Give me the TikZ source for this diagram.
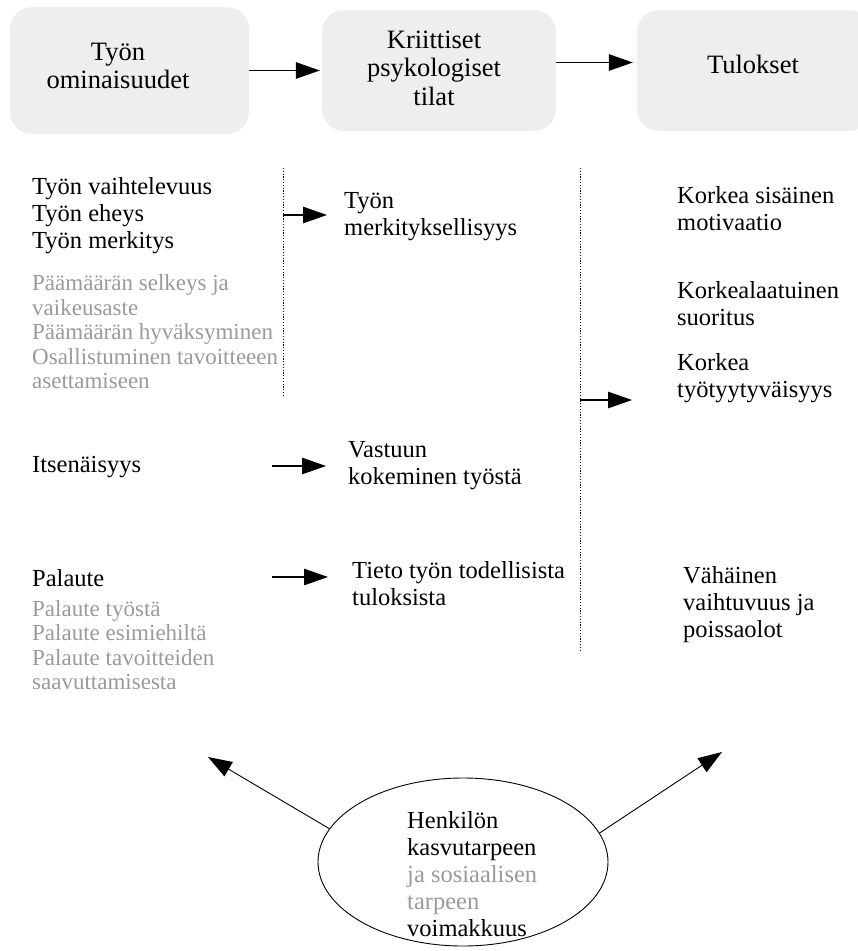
\documentclass[tikz,border=0pt]{standalone}
\usepackage{fontspec}
\setmainfont{Liberation Serif}
\usetikzlibrary{arrows.meta,shapes.geometric}
\definecolor{boxfill}{HTML}{EEEEEE}
\definecolor{softgray}{HTML}{9A9A9A}
\tikzset{
  headbox/.style={draw=none, fill=boxfill, rounded corners=22pt, inner sep=0pt},
  headtxt/.style={font=\fontsize{26.5}{28.5}\selectfont, align=center, inner sep=0pt},
  main/.style={font=\fontsize{24.5}{27}\selectfont, align=left, inner sep=0pt, anchor=west},
  soft/.style={main, text=softgray, font=\fontsize{23}{24.5}\selectfont},
  arr/.style={line width=1.2pt, -{Triangle[length=24pt,width=16.5pt]}},
  divider/.style={line width=0.9pt, dash pattern=on 1.2pt off 1.6pt},
}
\begin{document}
\begin{tikzpicture}[x=1pt,y=-1pt]
\useasboundingbox (0,0) rectangle (858,951);

% header boxes
\node[headbox, minimum width=239pt, minimum height=127pt] (b1) at (129.5,70.5) {};
\node[headbox, minimum width=234pt, minimum height=121pt] (b2) at (439,70.5) {};
\node[headbox, minimum width=234pt, minimum height=121pt] (b3) at (754,70.5) {};
\node[headtxt] (t1) at (118,66) {Työn\\ominaisuudet};
\node[headtxt] (t2) at (434,68) {Kriittiset\\psykologiset\\tilat};
\node[headtxt] (t3) at (753,64) {Tulokset};
\draw[arr] (b1.east) -- ([xshift=-2pt]b2.west);
\draw[arr] ([yshift=8pt]b2.east) -- ([yshift=8pt,xshift=-4pt]b3.west);

% job characteristics
\node[main] (c1) at (32,216) {Työn vaihtelevuus\\Työn eheys\\Työn merkitys};
\node[soft] (c1s) at (32,332) {Päämäärän selkeys ja\\vaikeusaste\\Päämäärän hyväksyminen\\Osallistuminen tavoitteeen\\asettamiseen};
\node[main] (c2) at (32,467) {Itsenäisyys};
\node[main] (c3) at (32,578) {Palaute};
\node[soft] (c3s) at (32,645) {Palaute työstä\\Palaute esimiehiltä\\Palaute tavoitteiden\\saavuttamisesta};

% psychological states
\node[main] (s1) at (344,217) {Työn\\merkityksellisyys};
\node[main] (s2) at (348,466) {Vastuun\\kokeminen työstä};
\node[main] (s3) at (352,584) {Tieto työn todellisista\\tuloksista};

% outcomes
\node[main] (o1) at (677,209) {Korkea sisäinen\\motivaatio};
\node[main] (o2) at (677,304) {Korkealaatuinen\\suoritus};
\node[main] (o3) at (677,378) {Korkea\\työtyytyväisyys};
\node[main] (o4) at (683,605) {Vähäinen\\vaihtuvuus ja\\poissaolot};

% dotted dividers
\coordinate (d1top) at (283,168);
\coordinate (d1bot) at (283,397);
\coordinate (d2top) at (580,168);
\coordinate (d2bot) at (580,650);
\draw[divider] (d1top) -- (d1bot);
\draw[divider] (d2top) -- (d2bot);

% connectors
\coordinate (a1) at (283,215);
\draw[arr] (a1) -- (a1 -| s1.west) [shorten >=17pt];
\coordinate (a2) at (272,466);
\draw[arr] (a2) -- (a2 -| s2.west) [shorten >=22pt];
\coordinate (a3) at (272,577);
\draw[arr] (a3) -- (a3 -| s3.west) [shorten >=24pt];
\coordinate (a4) at (580,400);
\draw[arr] (a4) -- (a4 -| o3.west) [shorten >=45pt];

% moderator
\node[draw, ellipse, line width=0.9pt, minimum width=290pt, minimum height=168pt, inner sep=0pt] (m) at (463,862) {};
\node[main, anchor=north west] (mt) at (407,811) {Henkilön\\kasvutarpeen\\\textcolor{softgray}{ja sosiaalisen}\\\textcolor{softgray}{tarpeen}\\voimakkuus};
\coordinate (tipL) at (208,757);
\coordinate (tipR) at (722,752);
\draw[arr, line width=0.9pt] (m.166) -- (tipL);
\draw[arr, line width=0.9pt] (m.12) -- (tipR);
\end{tikzpicture}
\end{document}
